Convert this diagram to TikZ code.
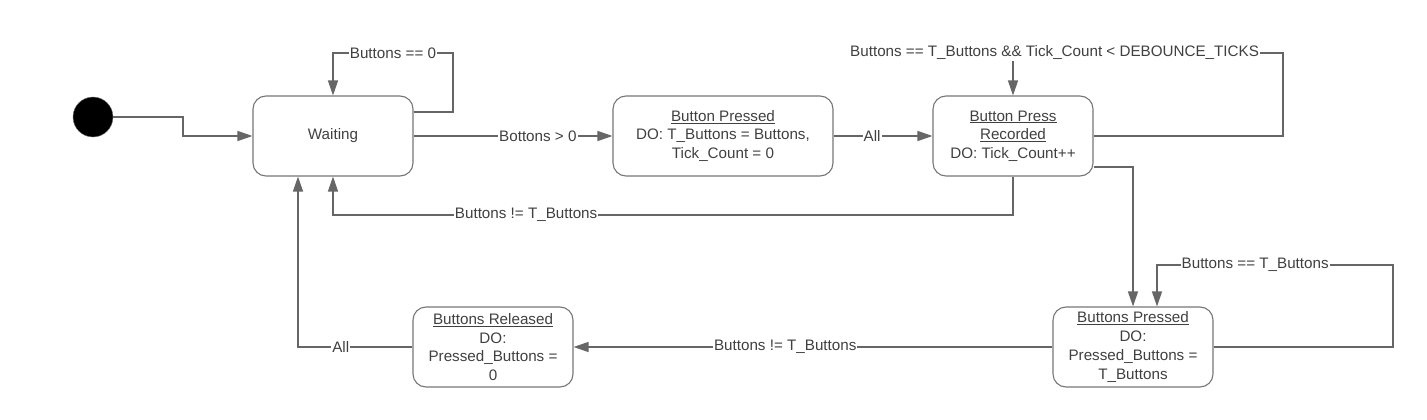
\documentclass[tikz,border=0pt]{standalone}
\usepackage{fontspec}
\setmainfont{Liberation Sans}
\usetikzlibrary{arrows.meta, positioning}
\definecolor{smline}{HTML}{666666}
\definecolor{smtext}{HTML}{404040}
\definecolor{smbox}{HTML}{767676}

\begin{document}
\begin{tikzpicture}[
    x=1pt, y=-1pt,
    state/.style={draw=smbox, line width=1.1pt, rounded corners=13pt, minimum width=160pt,
                  minimum height=80pt, align=center, text=smtext,
                  font=\fontsize{15.2}{18.7}\selectfont},
    conn/.style={draw=smline, line width=1.2pt,
                 -{Triangle[length=15pt, width=10pt, fill=smline]}},
    lbl/.style={fill=white, inner sep=1pt, text=smtext, font=\fontsize{15.2}{17}\selectfont},
]
\useasboundingbox (0,0) rectangle (1427,420);

% States
\node[circle, fill=black, draw=smbox, minimum size=40pt, inner sep=0pt] (init) at (93,117) {};
\node[state] (wait) at (333,136) {Waiting};
\node[state, minimum width=220pt] (btnp) at (723,136)
  {\underline{Button Pressed}\\DO: T\_Buttons = Buttons,\\Tick\_Count = 0};
\node[state] (rec) at (1013,136)
  {\underline{Button Press}\\\underline{Recorded}\\DO: Tick\_Count++};
\node[state] (pressed) at (1133,347)
  {\underline{Buttons Pressed}\\DO:\\Pressed\_Buttons =\\T\_Buttons};
\node[state] (released) at (493,347)
  {\underline{Buttons Released}\\DO:\\Pressed\_Buttons =\\0};

% Top row
\draw[conn] (init.east) -- (183,117) |- (wait.west);
\draw[conn] ([yshift=24pt]wait.east) -| (453,53) -| (wait.north)
  node[lbl, pos=0.25] {Buttons == 0};
\draw[conn] (wait.east) -- (btnp.west) node[lbl, pos=0.625] {Bottons > 0};
\draw[conn] (btnp.east) -- (rec.west) node[lbl, pos=0.39] {All};
\draw[conn] (rec.east) -| (1283,53) -| (rec.north)
  node[lbl, pos=0.423] {Buttons == T\_Buttons \&\& Tick\_Count < DEBOUNCE\_TICKS};
\draw[conn] (rec.south) -- (1013,215) -| (wait.south)
  node[lbl, pos=0.358] {Buttons != T\_Buttons};

% Down to the bottom row
\draw[conn] ([yshift=-31pt]rec.east) -| (pressed.north);
\draw[conn] (pressed.east) -| (1393,265) -| ([xshift=24pt]pressed.north)
  node[lbl, pos=0.292] {Buttons == T\_Buttons};
\draw[conn] (pressed.west) -- (released.east) node[lbl, pos=0.558] {Buttons != T\_Buttons};
\draw[conn] (released.west) -| ([xshift=-35pt]wait.south)
  node[lbl, pos=0.313] {All};

\end{tikzpicture}
\end{document}
